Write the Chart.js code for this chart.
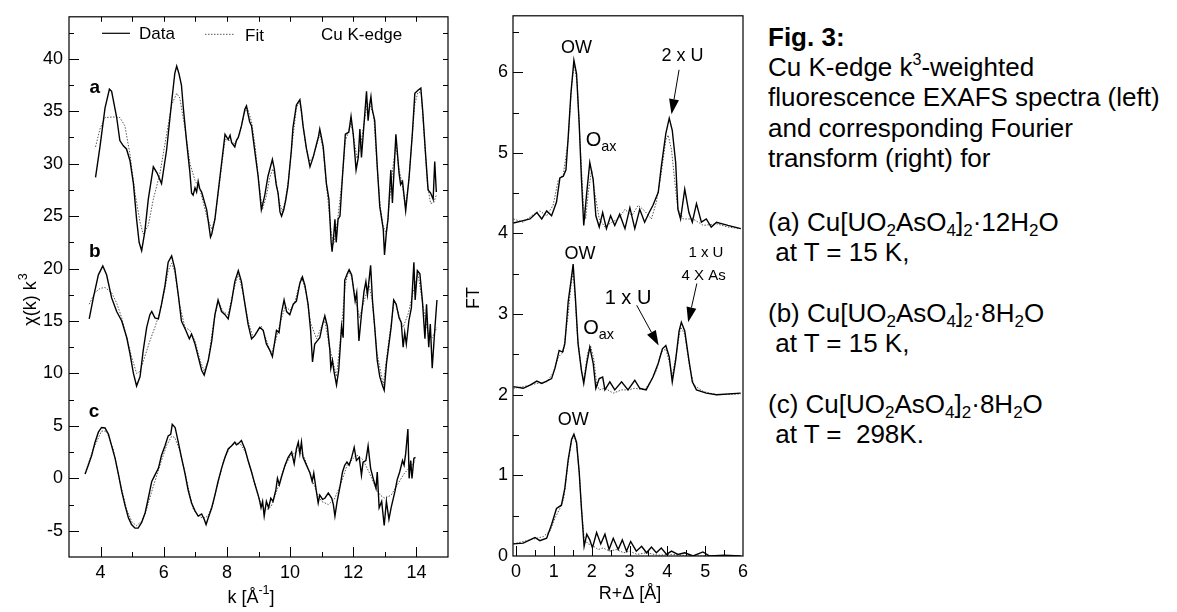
<!DOCTYPE html>
<html>
<head>
<meta charset="utf-8">
<script src="https://cdn.jsdelivr.net/npm/chart.js@4.4.1/dist/chart.umd.min.js"></script>
<style>
  body { margin: 0; background: #fff; width: 1177px; height: 612px; position: relative; overflow: hidden;
         font-family: "Liberation Sans", Arial, sans-serif; color: #000; }
  #chiChart { position: absolute; left: 0; top: 0; }
  #ftChart { position: absolute; left: 460px; top: 0; }
  .cap { position: absolute; left: 768px; font-size: 26px; line-height: 30px; white-space: nowrap; }
  .cap sub { font-size: 17px; vertical-align: -5px; line-height: 0; }
  .cap sup { font-size: 16px; vertical-align: 11px; line-height: 0; }
</style>
</head>
<body>
<canvas id="chiChart" width="460" height="612"></canvas>
<canvas id="ftChart" width="300" height="612"></canvas>

<div class="cap" style="top:22px"><b>Fig. 3:</b></div>
<div class="cap" style="top:52px">Cu K-edge k<sup>3</sup>-weighted</div>
<div class="cap" style="top:82px">fluorescence EXAFS spectra (left)</div>
<div class="cap" style="top:113px">and corresponding Fourier</div>
<div class="cap" style="top:143px">transform (right) for</div>
<div class="cap" style="top:207px">(a) Cu[UO<sub>2</sub>AsO<sub>4</sub>]<sub>2</sub>·12H<sub>2</sub>O</div>
<div class="cap" style="top:237px">&nbsp;at T = 15 K,</div>
<div class="cap" style="top:298px">(b) Cu[UO<sub>2</sub>AsO<sub>4</sub>]<sub>2</sub>·8H<sub>2</sub>O</div>
<div class="cap" style="top:328px">&nbsp;at T = 15 K,</div>
<div class="cap" style="top:389px">(c) Cu[UO<sub>2</sub>AsO<sub>4</sub>]<sub>2</sub>·8H<sub>2</sub>O</div>
<div class="cap" style="top:419px">&nbsp;at T = &nbsp;298K.</div>

<script>
// ---- left panel: chi(k) k^3, pairs of [k, value] ----
const chiTicksX = [4, 6, 8, 10, 12, 14]
const chiTicksY = [-5, 0, 5, 10, 15, 20, 25, 30, 35, 40]

const aData = [[3.84,28.7],[3.98,31.6],[4.14,35.3],[4.28,37.1],[4.35,36.9],[4.51,34.4],[4.61,32.2],[4.72,31.7],[4.82,31.4],[4.93,30.3],[5.04,28.1],[5.14,24.7],[5.22,22.5],[5.3,21.7],[5.4,23.5],[5.51,26.6],[5.67,29.7],[5.79,29.1],[5.93,28.1],[6.09,31.3],[6.25,35.9],[6.35,38.6],[6.41,39.3],[6.48,38.6],[6.56,37.5],[6.62,35.3],[6.72,32.2],[6.83,29.1],[6.88,27.2],[6.93,27.0],[6.99,27.7],[7.04,27.3],[7.09,28.3],[7.14,27.6],[7.2,27.3],[7.36,25.6],[7.48,23.0],[7.52,23.3],[7.62,24.7],[7.78,28.75],[7.94,32.8],[8.04,32.3],[8.1,32.7],[8.15,32.0],[8.2,31.8],[8.25,31.6],[8.3,32.2],[8.36,32.5],[8.46,33.6],[8.57,35.2],[8.62,35.5],[8.67,34.7],[8.72,34.0],[8.78,33.6],[8.88,31.25],[8.99,28.75],[9.09,25.6],[9.2,27.0],[9.3,28.8],[9.44,30.4],[9.5,29.5],[9.56,28.0],[9.62,27.2],[9.68,25.4],[9.73,25.0],[9.8,25.6],[9.86,26.5],[9.93,27.8],[10.04,31.25],[10.09,33.4],[10.2,35.6],[10.31,36.1],[10.36,35.0],[10.41,33.6],[10.52,31.4],[10.63,29.7],[10.73,30.6],[10.84,31.9],[10.9,32.6],[10.94,33.3],[11.0,32.4],[11.05,31.6],[11.15,28.1],[11.23,26.6],[11.3,22.5],[11.33,21.6],[11.38,23.1],[11.42,24.7],[11.46,22.5],[11.52,24.7],[11.58,25.0],[11.65,28.4],[11.75,32.8],[11.86,33.0],[11.93,34.5],[12.0,32.8],[12.09,29.4],[12.16,30.6],[12.21,33.3],[12.26,30.6],[12.34,33.75],[12.42,36.9],[12.47,34.1],[12.52,35.6],[12.56,36.4],[12.6,35.2],[12.68,34.1],[12.76,29.7],[12.84,25.9],[12.95,23.75],[12.99,21.3],[13.05,23.5],[13.1,24.7],[13.19,29.4],[13.24,26.25],[13.35,32.8],[13.45,29.1],[13.5,28.0],[13.56,28.3],[13.66,25.5],[13.77,28.75],[13.87,32.8],[13.95,36.7],[14.05,37.0],[14.14,37.2],[14.2,35.0],[14.29,30.9],[14.37,27.5],[14.45,27.2],[14.53,26.6],[14.58,30.2],[14.63,27.3]]
const aFit = [[3.84,31.6],[3.98,33.3],[4.14,34.4],[4.4,34.45],[4.61,34.4],[4.77,33.6],[4.93,30.9],[5.09,27.2],[5.25,24.4],[5.35,23.3],[5.51,24.1],[5.67,26.6],[5.88,29.1],[6.09,32.8],[6.25,35.6],[6.41,36.7],[6.51,36.25],[6.67,33.4],[6.83,30.0],[6.99,28.4],[7.15,27.5],[7.36,25.0],[7.52,23.75],[7.62,24.7],[7.78,28.5],[7.94,32.3],[8.1,32.2],[8.25,31.9],[8.4,32.8],[8.55,34.8],[8.65,35.3],[8.78,34.0],[8.9,31.5],[9.0,28.5],[9.12,25.6],[9.25,26.9],[9.35,28.6],[9.45,29.5],[9.55,28.5],[9.65,26.5],[9.75,25.4],[9.85,26.5],[9.95,28.5],[10.05,31.5],[10.2,35.3],[10.3,36.0],[10.4,34.0],[10.5,31.6],[10.62,30.2],[10.75,30.8],[10.88,32.2],[10.95,32.8],[11.05,31.3],[11.15,28.0],[11.3,23.5],[11.38,22.3],[11.5,24.5],[11.65,28.5],[11.75,32.2],[11.85,33.0],[11.93,33.9],[12.03,32.2],[12.12,30.5],[12.22,31.5],[12.35,34.0],[12.45,35.8],[12.55,35.5],[12.65,34.5],[12.75,30.0],[12.85,26.0],[12.95,24.0],[13.05,23.3],[13.15,26.5],[13.25,29.5],[13.35,31.8],[13.45,29.5],[13.55,28.0],[13.65,26.0],[13.75,28.0],[13.85,32.0],[13.95,35.7],[14.05,36.8],[14.15,36.8],[14.25,32.5],[14.35,28.0],[14.45,26.2],[14.55,26.3],[14.63,27.0]]

const bData = [[3.64,15.2],[3.77,17.2],[3.93,19.4],[4.07,20.25],[4.19,19.4],[4.35,17.2],[4.51,15.9],[4.67,15.0],[4.83,13.4],[4.93,11.9],[5.04,10.0],[5.14,8.8],[5.25,9.7],[5.35,12.2],[5.46,14.4],[5.56,15.6],[5.62,15.9],[5.72,15.3],[5.83,15.2],[5.93,16.6],[6.04,18.4],[6.14,20.6],[6.25,21.2],[6.35,20.0],[6.46,17.5],[6.56,15.0],[6.7,14.1],[6.81,13.3],[6.88,13.75],[6.99,12.8],[7.09,11.6],[7.2,10.3],[7.28,9.85],[7.41,11.25],[7.52,13.1],[7.62,15.6],[7.72,17.0],[7.83,15.9],[7.94,15.6],[8.04,15.2],[8.15,16.9],[8.25,18.75],[8.36,19.8],[8.46,18.75],[8.57,16.6],[8.67,14.7],[8.78,13.3],[8.88,13.6],[9.04,14.4],[9.15,14.1],[9.25,12.8],[9.36,12.2],[9.44,11.6],[9.57,14.1],[9.65,13.9],[9.73,15.8],[9.81,17.0],[9.89,15.9],[9.99,15.6],[10.1,16.6],[10.2,16.9],[10.31,18.6],[10.39,19.2],[10.47,18.4],[10.57,16.6],[10.65,14.1],[10.71,11.1],[10.78,12.8],[10.86,13.1],[10.94,13.4],[11.03,14.7],[11.1,15.5],[11.18,14.5],[11.26,12.2],[11.29,10.5],[11.34,11.25],[11.39,10.2],[11.47,8.9],[11.54,10.3],[11.63,14.5],[11.68,13.4],[11.73,18.9],[11.81,19.5],[11.87,19.9],[11.95,19.4],[12.06,16.9],[12.11,17.7],[12.18,13.1],[12.26,15.6],[12.34,17.8],[12.4,18.75],[12.45,17.5],[12.55,20.3],[12.61,16.9],[12.68,14.4],[12.76,11.25],[12.84,9.7],[12.92,8.9],[12.98,8.4],[13.05,10.9],[13.13,12.8],[13.2,14.4],[13.28,17.0],[13.36,16.6],[13.45,15.3],[13.52,14.85],[13.58,12.5],[13.63,13.9],[13.68,12.8],[13.76,15.0],[13.84,16.25],[13.92,20.6],[13.96,17.0],[14.03,19.8],[14.11,19.5],[14.19,16.9],[14.27,13.3],[14.32,16.6],[14.39,12.5],[14.44,14.7],[14.5,10.5],[14.58,14.1],[14.65,17.0]]
const bFit = [[3.64,16.6],[3.82,17.7],[3.98,18.1],[4.14,18.2],[4.35,17.7],[4.51,16.7],[4.67,15.3],[4.83,13.4],[4.98,11.6],[5.14,10.0],[5.25,10.2],[5.4,11.6],[5.56,13.1],[5.72,14.4],[5.88,15.9],[6.04,18.1],[6.14,19.8],[6.25,20.5],[6.35,19.7],[6.5,16.6],[6.67,14.4],[6.83,14.1],[6.99,13.1],[7.15,11.25],[7.28,10.2],[7.41,11.25],[7.57,14.7],[7.72,16.9],[7.88,15.9],[8.04,15.6],[8.2,17.8],[8.36,19.5],[8.52,17.5],[8.67,15.0],[8.83,13.4],[8.99,14.2],[9.09,14.5],[9.25,13.2],[9.4,11.8],[9.55,13.2],[9.7,15.0],[9.85,16.4],[10.0,16.0],[10.15,16.8],[10.36,19.2],[10.5,17.8],[10.65,14.8],[10.84,13.3],[11.0,14.5],[11.1,15.0],[11.25,12.5],[11.47,9.7],[11.6,13.5],[11.75,18.5],[11.85,19.8],[11.95,19.2],[12.05,17.5],[12.2,15.3],[12.35,17.0],[12.5,18.4],[12.6,17.0],[12.75,12.0],[12.95,8.9],[13.1,12.5],[13.3,17.0],[13.45,15.5],[13.58,14.4],[13.75,15.8],[13.9,17.8],[14.05,19.5],[14.2,16.6],[14.37,13.75],[14.5,13.4],[14.65,14.4]]

const cData = [[3.51,0.4],[3.61,1.25],[3.72,2.2],[3.82,3.4],[3.93,4.4],[4.03,4.85],[4.14,4.8],[4.25,4.2],[4.35,3.1],[4.46,1.9],[4.57,0.3],[4.67,-1.25],[4.78,-2.65],[4.88,-3.75],[4.98,-4.4],[5.09,-4.75],[5.19,-4.75],[5.3,-4.2],[5.41,-3.3],[5.51,-1.9],[5.62,-0.3],[5.72,0.3],[5.83,0.95],[5.93,2.2],[6.04,3.1],[6.14,4.05],[6.22,4.2],[6.27,5.15],[6.36,4.85],[6.46,3.45],[6.56,2.0],[6.67,0.5],[6.77,-1.1],[6.88,-2.35],[6.99,-3.1],[7.09,-3.6],[7.2,-3.4],[7.28,-3.9],[7.34,-4.4],[7.41,-3.75],[7.52,-2.8],[7.62,-1.6],[7.72,-0.3],[7.83,0.95],[7.94,2.0],[8.04,2.8],[8.15,3.1],[8.25,3.45],[8.3,3.2],[8.36,3.3],[8.46,3.6],[8.5,3.3],[8.57,2.8],[8.67,1.7],[8.78,0.6],[8.88,-0.5],[8.99,-1.6],[9.04,-2.2],[9.08,-2.8],[9.13,-2.2],[9.18,-3.6],[9.25,-2.2],[9.32,-2.8],[9.39,-1.9],[9.46,-2.2],[9.55,-1.1],[9.6,0.0],[9.66,-0.6],[9.73,0.15],[9.84,1.25],[9.94,2.0],[10.05,2.5],[10.13,1.4],[10.2,2.8],[10.26,3.45],[10.31,2.35],[10.36,3.45],[10.41,2.0],[10.52,1.25],[10.63,0.5],[10.7,-0.3],[10.75,0.5],[10.84,-1.4],[10.89,-2.35],[10.94,-1.6],[11.03,-2.0],[11.1,-1.9],[11.21,-1.4],[11.32,-1.9],[11.37,-2.5],[11.42,-3.6],[11.49,-2.2],[11.58,-0.8],[11.66,0.6],[11.73,1.25],[11.8,1.55],[11.87,1.25],[11.95,2.0],[12.03,2.95],[12.1,1.7],[12.19,2.0],[12.26,0.3],[12.31,1.55],[12.4,1.7],[12.47,3.1],[12.55,0.95],[12.63,0.0],[12.72,-0.95],[12.76,0.6],[12.82,-2.8],[12.9,-2.2],[12.98,-4.5],[13.05,-2.2],[13.13,-3.9],[13.2,-2.8],[13.32,-1.25],[13.39,-0.15],[13.47,0.6],[13.56,1.7],[13.61,1.25],[13.66,2.35],[13.73,4.7],[13.77,0.0],[13.82,1.7],[13.86,0.0],[13.92,1.9],[13.97,2.0]]
const cFit = [[3.51,0.5],[3.77,2.8],[4.03,4.5],[4.19,4.5],[4.4,2.8],[4.61,-0.3],[4.83,-3.0],[5.0,-4.2],[5.14,-4.5],[5.3,-4.1],[5.46,-2.9],[5.62,-1.25],[5.78,0.3],[5.93,1.7],[6.1,3.2],[6.25,4.0],[6.35,3.9],[6.5,2.7],[6.67,0.6],[6.83,-1.6],[6.93,-2.9],[7.1,-3.6],[7.25,-3.8],[7.4,-3.6],[7.55,-2.5],[7.72,-0.4],[7.9,1.7],[8.1,3.0],[8.3,3.4],[8.45,3.2],[8.6,2.4],[8.78,0.6],[8.95,-1.3],[9.1,-2.6],[9.25,-3.0],[9.4,-2.7],[9.6,-1.0],[9.8,0.9],[10.0,2.1],[10.26,2.65],[10.45,2.0],[10.65,0.3],[10.85,-1.4],[11.0,-2.2],[11.21,-2.5],[11.4,-2.0],[11.6,-0.6],[11.8,1.2],[12.1,2.25],[12.3,1.8],[12.5,0.6],[12.7,-0.8],[12.85,-1.6],[13.0,-1.9],[13.2,-1.6],[13.4,-0.6],[13.6,0.4],[13.8,1.1],[13.97,1.7]]

// ---- right panel: FT, pairs of [R+delta, FT] ----
const ftTicksX = [0, 1, 2, 3, 4, 5, 6]
const ftTicksY = [0, 1, 2, 3, 4, 5, 6]

const ftAData = [[-0.07,4.13],[0.19,4.16],[0.37,4.18],[0.55,4.26],[0.68,4.18],[0.81,4.28],[0.94,4.22],[1.07,4.39],[1.16,4.69],[1.25,4.71],[1.32,4.79],[1.38,5.2],[1.45,5.73],[1.53,6.15],[1.6,5.98],[1.67,5.36],[1.73,4.67],[1.79,4.1],[1.87,4.51],[1.95,4.88],[2.04,4.67],[2.11,4.22],[2.2,4.08],[2.29,4.26],[2.39,4.06],[2.5,4.22],[2.61,4.1],[2.74,4.24],[2.88,4.06],[3.01,4.32],[3.14,4.06],[3.27,4.3],[3.4,4.14],[3.52,4.26],[3.62,4.35],[3.76,4.51],[3.84,4.83],[3.96,5.24],[4.05,5.43],[4.13,5.28],[4.22,4.88],[4.28,4.3],[4.35,4.18],[4.46,4.55],[4.57,4.26],[4.66,4.14],[4.77,4.37],[4.9,4.14],[5.03,4.18],[5.16,4.08],[5.3,4.14],[5.6,4.1],[5.94,4.06]]
const ftAFit = [[-0.07,4.18],[0.19,4.14],[0.41,4.22],[0.63,4.28],[0.81,4.22],[0.98,4.35],[1.12,4.67],[1.25,4.73],[1.38,5.16],[1.47,5.85],[1.54,6.1],[1.62,5.85],[1.69,5.16],[1.78,4.35],[1.84,4.18],[1.91,4.51],[2.0,4.79],[2.08,4.51],[2.2,4.18],[2.35,4.08],[2.53,4.14],[2.7,4.18],[2.88,4.3],[3.06,4.22],[3.23,4.35],[3.4,4.28],[3.58,4.18],[3.71,4.39],[3.84,4.75],[3.96,5.16],[4.02,5.22],[4.11,5.04],[4.2,4.63],[4.28,4.3],[4.42,4.18],[4.68,4.18],[4.95,4.1],[5.3,4.12],[5.6,4.08],[5.94,4.06]]

const ftBData = [[-0.07,2.1],[0.19,2.08],[0.37,2.12],[0.55,2.17],[0.68,2.14],[0.81,2.17],[0.94,2.2],[1.03,2.33],[1.14,2.55],[1.23,2.53],[1.29,2.63],[1.38,3.16],[1.45,3.4],[1.51,3.62],[1.57,3.2],[1.64,2.63],[1.73,2.3],[1.79,2.14],[1.87,2.39],[1.95,2.59],[2.04,2.39],[2.11,2.08],[2.2,2.2],[2.29,2.22],[2.35,2.06],[2.48,2.16],[2.61,2.06],[2.79,2.16],[2.96,2.06],[3.14,2.18],[3.27,2.08],[3.44,2.06],[3.62,2.22],[3.76,2.39],[3.87,2.57],[3.96,2.61],[4.05,2.47],[4.13,2.16],[4.22,2.43],[4.31,2.79],[4.37,2.9],[4.46,2.79],[4.57,2.43],[4.66,2.16],[4.77,2.06],[5.03,2.02],[5.3,2.0],[5.94,2.02]]
const ftBFit = [[-0.07,2.08],[0.19,2.1],[0.55,2.14],[0.81,2.16],[0.98,2.27],[1.12,2.47],[1.25,2.53],[1.38,3.0],[1.45,3.35],[1.51,3.52],[1.57,3.15],[1.62,2.75],[1.73,2.3],[1.79,2.18],[1.89,2.51],[1.97,2.61],[2.06,2.43],[2.13,2.14],[2.2,2.06],[2.35,2.08],[2.57,2.02],[2.79,2.06],[2.96,2.06],[3.14,2.08],[3.4,2.06],[3.58,2.18],[3.71,2.3],[3.84,2.53],[3.96,2.57],[4.07,2.37],[4.13,2.23],[4.24,2.51],[4.35,2.84],[4.46,2.75],[4.59,2.35],[4.7,2.12],[4.95,2.04],[5.3,2.0],[5.94,2.01]]

const ftCData = [[-0.07,0.15],[0.19,0.16],[0.37,0.2],[0.5,0.23],[0.63,0.19],[0.81,0.22],[0.94,0.39],[1.07,0.59],[1.2,0.63],[1.29,0.84],[1.38,1.2],[1.47,1.45],[1.53,1.51],[1.6,1.41],[1.67,1.04],[1.73,0.59],[1.8,0.12],[1.87,0.27],[1.95,0.2],[2.02,0.1],[2.13,0.29],[2.24,0.15],[2.35,0.27],[2.46,0.08],[2.57,0.22],[2.7,0.08],[2.81,0.2],[2.92,0.06],[3.03,0.18],[3.18,0.06],[3.32,0.12],[3.45,0.04],[3.58,0.11],[3.71,0.04],[3.84,0.1],[3.98,0.02],[4.11,0.06],[4.28,0.02],[4.46,0.04],[4.68,0.0],[4.94,0.05],[5.12,0.0],[5.5,0.01],[5.94,0.0]]
const ftCFit = [[-0.07,0.15],[0.37,0.2],[0.72,0.24],[0.9,0.31],[1.03,0.47],[1.16,0.59],[1.26,0.71],[1.38,1.16],[1.47,1.43],[1.53,1.49],[1.6,1.39],[1.67,1.04],[1.73,0.59],[1.8,0.22],[1.9,0.15],[2.0,0.14],[2.17,0.08],[2.3,0.1],[2.48,0.06],[2.65,0.08],[2.85,0.04],[3.0,0.06],[3.2,0.02],[3.45,0.04],[3.75,0.01],[4.1,0.02],[4.68,0.0],[5.94,0.0]]

const FONT = '"Liberation Sans", Arial, sans-serif'

function pts(arr) {
  return arr.map(p => ({ x: p[0], y: p[1] }))
}

function dataSet(arr) {
  return { data: pts(arr), borderColor: '#000', borderWidth: 1.4, pointRadius: 0, tension: 0, fill: false }
}

function fitSet(arr) {
  return { data: pts(arr), borderColor: '#555', borderWidth: 1, borderDash: [1.5, 1.5], pointRadius: 0, tension: 0, fill: false }
}

function onStep(v, step) {
  return Math.abs(v / step - Math.round(v / step)) < 1e-6
}

// box, inward ticks, labels, arrows
const framePlugin = {
  id: 'frame',
  afterDraw(chart, args, o) {
    const { ctx, chartArea: a, scales: { x, y } } = chart
    ctx.save()
    ctx.strokeStyle = '#000'
    ctx.fillStyle = '#000'
    ctx.lineWidth = 1.2
    ctx.strokeRect(a.left, a.top, a.right - a.left, a.bottom - a.top)
    ctx.lineWidth = 1
    ctx.beginPath()
    for (let i = Math.ceil(x.min / o.xMinor); i * o.xMinor <= x.max + 1e-9; i++) {
      const v = i * o.xMinor
      const px = Math.round(x.getPixelForValue(v)) + 0.5
      if (px < a.left + 2 || px > a.right - 2) continue
      const len = onStep(v, o.xMajor) ? o.majorLen : o.minorLen
      ctx.moveTo(px, a.bottom); ctx.lineTo(px, a.bottom - len)
      ctx.moveTo(px, a.top); ctx.lineTo(px, a.top + o.topLen)
    }
    for (let i = Math.ceil(y.min / o.yMinor); i * o.yMinor <= y.max + 1e-9; i++) {
      const v = i * o.yMinor
      const py = Math.round(y.getPixelForValue(v)) + 0.5
      if (py < a.top + 2 || py > a.bottom - 2) continue
      const len = onStep(v, o.yMajor) ? o.majorLen : o.minorLen
      ctx.moveTo(a.left, py); ctx.lineTo(a.left + len, py)
      ctx.moveTo(a.right, py); ctx.lineTo(a.right - o.rightLen, py)
    }
    ctx.stroke()

    ctx.textBaseline = 'middle'
    ctx.textAlign = 'center'
    for (const t of o.labels) {
      const px = x.getPixelForValue(t.at[0])
      const py = y.getPixelForValue(t.at[1])
      ctx.font = (t.bold ? 'bold ' : '') + t.size + 'px ' + FONT
      if (t.sub) {
        ctx.textAlign = 'left'
        const w = ctx.measureText(t.text).width
        ctx.fillText(t.text, px - w / 2, py)
        ctx.font = (t.size * 0.72) + 'px ' + FONT
        ctx.fillText(t.sub, px + w / 2, py + t.size * 0.32)
        ctx.textAlign = 'center'
      } else {
        ctx.fillText(t.text, px, py)
      }
    }

    for (const ar of o.arrows) {
      const x1 = x.getPixelForValue(ar.from[0]), y1 = y.getPixelForValue(ar.from[1])
      const x2 = x.getPixelForValue(ar.to[0]), y2 = y.getPixelForValue(ar.to[1])
      const ang = Math.atan2(y2 - y1, x2 - x1)
      const hl = 15, hw = 5
      const bx = x2 - hl * Math.cos(ang), by = y2 - hl * Math.sin(ang)
      ctx.beginPath()
      ctx.moveTo(x1, y1); ctx.lineTo(bx, by)
      ctx.stroke()
      ctx.beginPath()
      ctx.moveTo(x2, y2)
      ctx.lineTo(bx + hw * Math.sin(ang), by - hw * Math.cos(ang))
      ctx.lineTo(bx - hw * Math.sin(ang), by + hw * Math.cos(ang))
      ctx.closePath()
      ctx.fill()
    }

    // axis titles
    const tt = o.titles
    ctx.font = tt.size + 'px ' + FONT
    ctx.textAlign = 'center'
    ctx.save()
    ctx.translate(tt.yAt[0], tt.yAt[1])
    ctx.rotate(-Math.PI / 2)
    if (tt.ySup) {
      const w1 = ctx.measureText(tt.y).width
      ctx.font = (tt.size * 0.7) + 'px ' + FONT
      const w2 = ctx.measureText(tt.ySup).width
      ctx.textAlign = 'left'
      ctx.font = tt.size + 'px ' + FONT
      ctx.fillText(tt.y, -(w1 + w2) / 2, 0)
      ctx.font = (tt.size * 0.7) + 'px ' + FONT
      ctx.fillText(tt.ySup, -(w1 + w2) / 2 + w1 + 1, -tt.size * 0.4)
    } else {
      ctx.fillText(tt.y, 0, 0)
    }
    ctx.restore()
    ctx.textAlign = 'left'
    ctx.font = tt.size + 'px ' + FONT
    const p1 = ctx.measureText(tt.x[0]).width
    ctx.font = (tt.size * 0.7) + 'px ' + FONT
    const p2 = ctx.measureText(tt.x[1]).width
    ctx.font = tt.size + 'px ' + FONT
    const p3 = ctx.measureText(tt.x[2]).width
    let sx = tt.xAt[0] - (p1 + p2 + p3) / 2
    ctx.fillText(tt.x[0], sx, tt.xAt[1])
    ctx.font = (tt.size * 0.7) + 'px ' + FONT
    ctx.fillText(tt.x[1], sx + p1, tt.xAt[1] - tt.size * 0.4)
    ctx.font = tt.size + 'px ' + FONT
    ctx.fillText(tt.x[2], sx + p1 + p2, tt.xAt[1])

    // legend (left panel only)
    if (o.legend) {
      const L = a.left, T = a.top
      ctx.beginPath()
      ctx.lineWidth = 1.2
      ctx.moveTo(L + 33, T + 16.5); ctx.lineTo(L + 61, T + 16.5)
      ctx.stroke()
      ctx.beginPath()
      ctx.strokeStyle = '#555'
      ctx.lineWidth = 1
      ctx.setLineDash([1.5, 1.5])
      ctx.moveTo(L + 136, T + 17.5); ctx.lineTo(L + 166, T + 17.5)
      ctx.stroke()
      ctx.setLineDash([])
      ctx.font = '17px ' + FONT
      ctx.textAlign = 'left'
      ctx.fillText('Data', L + 70, T + 18)
      ctx.fillText('Fit', L + 176, T + 20)
      ctx.fillText('Cu K-edge', L + 252, T + 19)
    }
    ctx.restore()
  }
}

function axisOpts(min, max, tickVals, size, pad) {
  return {
    type: 'linear', min: min, max: max,
    afterBuildTicks: s => { s.ticks = tickVals.map(v => ({ value: v })) },
    afterFit: s => { if (s.isHorizontal()) s.height = size; else s.width = size },
    grid: { display: false, drawTicks: false },
    border: { display: false },
    ticks: { color: '#000', font: { family: FONT, size: 18 }, padding: pad, autoSkip: false, maxRotation: 0 }
  }
}

new Chart(document.getElementById('chiChart'), {
  type: 'line',
  data: {
    datasets: [dataSet(aData), dataSet(bData), dataSet(cData), fitSet(aFit), fitSet(bFit), fitSet(cFit)]
  },
  options: {
    responsive: false, animation: false, devicePixelRatio: 1,
    layout: { padding: { top: 8, right: 12, left: 0, bottom: 0 } },
    plugins: {
      legend: { display: false }, tooltip: { enabled: false },
      frame: {
        xMajor: 2, xMinor: 1, yMajor: 5, yMinor: 2.5,
        majorLen: 10, minorLen: 5, topLen: 5, rightLen: 5,
        legend: true,
        labels: [
          { text: 'a', at: [3.82, 37.2], size: 19, bold: true },
          { text: 'b', at: [3.82, 21.6], size: 19, bold: true },
          { text: 'c', at: [3.79, 6.3], size: 19, bold: true }
        ],
        arrows: [],
        titles: { size: 18, y: 'χ(k) k', ySup: '3', yAt: [31, 300], x: ['k [Å', '-1', ']'], xAt: [251, 598] }
      }
    },
    scales: {
      x: axisOpts(3, 15, chiTicksX, 55, 5),
      y: axisOpts(-7.5, 44, chiTicksY, 69, 6)
    }
  },
  plugins: [framePlugin]
})

new Chart(document.getElementById('ftChart'), {
  type: 'line',
  data: {
    datasets: [dataSet(ftAData), dataSet(ftBData), dataSet(ftCData), fitSet(ftAFit), fitSet(ftBFit), fitSet(ftCFit)]
  },
  options: {
    responsive: false, animation: false, devicePixelRatio: 1,
    layout: { padding: { top: 8, right: 17, left: 0, bottom: 0 } },
    plugins: {
      legend: { display: false }, tooltip: { enabled: false },
      frame: {
        xMajor: 1, xMinor: 0.5, yMajor: 1, yMinor: 0.5,
        majorLen: 10, minorLen: 6, topLen: 0, rightLen: 0,
        legend: false,
        labels: [
          { text: 'OW', at: [1.6, 6.3], size: 18 },
          { text: 'O', sub: 'ax', at: [2.05, 5.15], size: 20 },
          { text: '2 x U', at: [4.4, 6.2], size: 18 },
          { text: 'OW', at: [1.69, 3.75], size: 18 },
          { text: '1 x U', at: [2.96, 3.2], size: 20 },
          { text: '1 x U', at: [5.02, 3.76], size: 15 },
          { text: '4 X As', at: [4.96, 3.48], size: 15 },
          { text: 'O', sub: 'ax', at: [1.98, 2.82], size: 20 },
          { text: 'OW', at: [1.51, 1.69], size: 18 }
        ],
        arrows: [
          { from: [4.31, 6.03], to: [4.11, 5.48] },
          { from: [3.19, 3.11], to: [3.77, 2.61] },
          { from: [4.78, 3.38], to: [4.55, 2.9] }
        ],
        titles: { size: 18, y: 'FT', yAt: [14, 298], x: ['R+Δ [Å]', '', ''], xAt: [170, 594] }
      }
    },
    scales: {
      x: axisOpts(-0.08, 6, ftTicksX, 56, 5),
      y: axisOpts(0, 6.7, ftTicksY, 53, 5)
    }
  },
  plugins: [framePlugin]
})
</script>
</body>
</html>
